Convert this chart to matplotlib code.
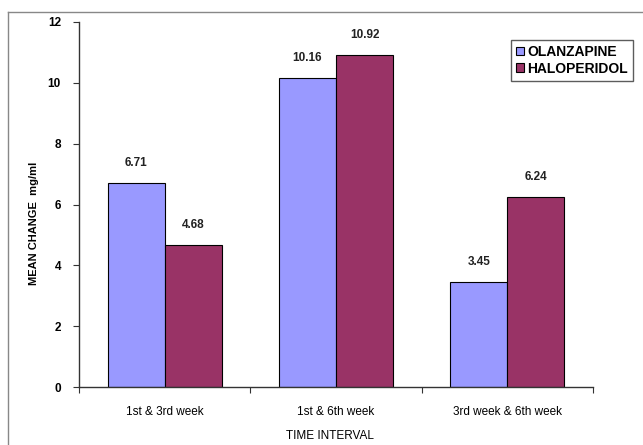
import matplotlib
matplotlib.use("Agg")
import matplotlib.pyplot as plt
from matplotlib.lines import Line2D
from matplotlib.patches import Patch
import numpy as np

plt.rcParams['font.family'] = ['Liberation Sans', 'DejaVu Sans']

categories = ["1st & 3rd week", "1st & 6th week", "3rd week & 6th week"]
olanzapine = [6.71, 10.16, 3.45]
haloperidol = [4.68, 10.92, 6.24]
olanzapine_labels = ["6.71", "10.16", "3.45"]
haloperidol_labels = ["4.68", "10.92", "6.24"]
series_names = ["OLANZAPINE", "HALOPERIDOL"]
yticks = [0, 2, 4, 6, 8, 10, 12]

W, H = 643, 445
fig = plt.figure(figsize=(W / 100, H / 100), dpi=100)
ax = fig.add_axes([79 / W, 1 - 387 / H, (593 - 79) / W, (387 - 22) / H])

x = np.arange(len(categories)) + 0.5
bw = 1 / 3
c1, c2 = "#9999FF", "#993366"
b1 = ax.bar(x - bw / 2, olanzapine, bw, color=c1, edgecolor="black", linewidth=0.8)
b2 = ax.bar(x + bw / 2, haloperidol, bw, color=c2, edgecolor="black", linewidth=0.8)

for bars, labels in ((b1, olanzapine_labels), (b2, haloperidol_labels)):
    for r, lab in zip(bars, labels):
        ax.annotate(lab, (r.get_x() + r.get_width() / 2, r.get_height()),
                    xytext=(0, 10), textcoords="offset points", ha="center",
                    va="bottom", fontsize=8.5, fontweight="bold", color="#222222")

ax.set_xlim(0, 3)
ax.set_ylim(0, 12)
ax.set_yticks(yticks)
ax.set_yticklabels([str(t) for t in yticks], fontsize=8.5, fontweight="bold")
ax.set_xticks([0, 1, 2, 3])
ax.set_xticklabels([])
ax.set_xticks(x, minor=True)
ax.set_xticklabels(categories, minor=True, fontsize=8.5)
ax.tick_params(axis="x", which="minor", length=0, pad=14)
ax.tick_params(axis="x", which="major", length=4, direction="out", color="#333333")
ax.tick_params(axis="y", length=4, direction="out", color="#333333", pad=9)
for s in ("top", "right"):
    ax.spines[s].set_visible(False)
for s in ("left", "bottom"):
    ax.spines[s].set_color("#333333")
    ax.spines[s].set_linewidth(1.0)

ax.set_xlabel("TIME INTERVAL", fontsize=8.5)
ax.xaxis.set_label_coords((330 - 79) / 514, -(430 - 387) / 365)
ax.set_ylabel("MEAN CHANGE  mg/ml", fontsize=8, fontweight="bold")
ax.yaxis.set_label_coords((39 - 79) / 514, (387 - 223) / 365)

handles = [Patch(facecolor=c1, edgecolor="black", linewidth=0.8),
           Patch(facecolor=c2, edgecolor="black", linewidth=0.8)]
leg = fig.legend(handles, series_names, loc="upper right",
                 bbox_to_anchor=(633 / W, 1 - 40 / H), frameon=True, fancybox=False,
                 edgecolor="#333333", handlelength=0.6, handleheight=0.6,
                 handletextpad=0.25, borderpad=0.35, labelspacing=0.2,
                 borderaxespad=0,
                 prop={"size": 10, "weight": "bold"})
leg.get_frame().set_linewidth(1.0)

fig.add_artist(Line2D([8 / W, 1], [1 - 12 / H, 1 - 12 / H], color="#888888", lw=1.0))
fig.add_artist(Line2D([8 / W, 8 / W], [0, 1 - 12 / H], color="#888888", lw=1.0))

fig.savefig("out.png", dpi=100)
